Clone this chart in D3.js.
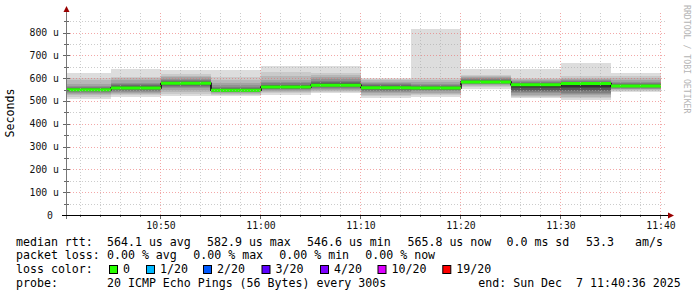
<!DOCTYPE html>
<html>
<head>
<meta charset="utf-8">
<script src="https://cdn.jsdelivr.net/npm/d3@7"></script>
<style>
  body { margin: 0; background: #fff; }
  svg { display: block; }
  text { font-family: "DejaVu Sans Mono", monospace; white-space: pre; }
</style>
</head>
<body>
<svg id="chart" width="697" height="297"></svg>
<script>
// 5 minute steps, value is for the step ending at that time
const stepEnds = ["10:45", "10:50", "10:55", "11:00", "11:05", "11:10",
                  "11:15", "11:20", "11:25", "11:30", "11:35", "11:40"];
const medianRtt = [549, 557, 578, 546.6, 561, 569, 558, 557, 582.9, 571, 576, 565.8];
// 20 sorted ping rtts per step (microseconds)
const pingRtt = [
  [509, 518, 525, 530, 535, 539, 542, 545, 547, 548, 550, 552, 555, 558, 562, 567, 575, 590, 600, 622],
  [516, 524, 530, 536, 540, 545, 549, 552, 555, 556, 558, 561, 564, 568, 573, 580, 590, 600, 607, 640],
  [522, 532, 540, 548, 555, 562, 567, 571, 575, 577, 579, 582, 585, 588, 592, 597, 603, 610, 618, 636],
  [523, 528, 532, 535, 538, 540, 542, 544, 546, 547, 548, 550, 553, 557, 562, 570, 580, 592, 604, 636],
  [526, 533, 538, 543, 547, 551, 554, 557, 559, 560, 562, 565, 568, 572, 578, 585, 594, 610, 625, 653],
  [534, 540, 545, 549, 553, 557, 561, 564, 567, 568, 570, 573, 577, 582, 588, 596, 605, 615, 621, 655],
  [514, 522, 528, 534, 539, 544, 548, 552, 555, 557, 559, 562, 565, 569, 573, 578, 584, 590, 596, 602],
  [519, 526, 532, 537, 542, 546, 550, 553, 555, 556, 558, 560, 563, 567, 571, 576, 582, 590, 601, 816],
  [553, 560, 565, 569, 573, 576, 578, 580, 582, 583, 584, 586, 588, 591, 595, 599, 604, 610, 614, 640],
  [512, 518, 523, 528, 533, 538, 543, 549, 555, 562, 568, 572, 576, 580, 584, 588, 593, 598, 602, 640],
  [504, 512, 518, 524, 530, 536, 542, 549, 556, 563, 570, 575, 579, 583, 587, 591, 596, 602, 610, 665],
  [538, 543, 547, 551, 554, 557, 559, 561, 563, 565, 567, 569, 571, 574, 578, 583, 590, 600, 610, 621]
];
const yTicks = [0, 100, 200, 300, 400, 500, 600, 700, 800];
const xTicks = ["10:50", "11:00", "11:10", "11:20", "11:30", "11:40"];
const rttStats = ["564.1 us avg", "582.9 us max", "546.6 us min", "565.8 us now", "0.0 ms sd", "53.3", "am/s"];
const lossStats = ["0.00 % avg", "0.00 % max", "0.00 % min", "0.00 % now"];
const lossLabels = ["0", "1/20", "2/20", "3/20", "4/20", "10/20", "19/20"];
const lossColors = ["#26ff00", "#00b8ff", "#0059ff", "#5e00ff", "#7e00ff", "#dd00ff", "#ff0000"];
const probeText = "20 ICMP Echo Pings (56 Bytes) every 300s";
const endText = "end: Sun Dec  7 11:40:36 2025";

const t = s => new Date(`2025-12-07T${s.length === 5 ? s + ":00" : s}`);
const startTime = t("10:40:36");
const endTime = t("11:40:36");

const svg = d3.select("#chart");

const x = d3.scaleTime().domain([startTime, endTime]).range([66, 666]);
const y = d3.scaleLinear().domain([0, 890]).range([215, 12]);
const px = v => Math.round(x(v));
const py = v => Math.round(y(v));

// smoke
const grays = d3.range(1, 11).map(i => {
  const c = Math.floor(190 / 10 * (10 - i)) + 50;
  return d3.rgb(c, c, c).toString();
});

const steps = stepEnds.map((s, i) => ({
  start: i === 0 ? startTime : t(stepEnds[i - 1]),
  end: t(s),
  median: medianRtt[i],
  pings: pingRtt[i]
}));

const smoke = svg.append("g");
steps.forEach(d => {
  for (let i = 0; i < 10; i++) {
    const lo = d.pings[i], hi = d.pings[19 - i];
    smoke.append("rect")
      .attr("x", px(d.start) + 1)
      .attr("width", px(d.end) - px(d.start))
      .attr("y", py(hi))
      .attr("height", Math.max(1, py(lo) - py(hi)))
      .attr("fill", grays[i]);
  }
});

// median: black step line with green segments on top
const stepPts = [];
steps.forEach(d => {
  stepPts.push([px(d.start) + 1, y(d.median)]);
  stepPts.push([px(d.end) + 1, y(d.median)]);
});
svg.append("path")
  .attr("d", d3.line()(stepPts))
  .attr("fill", "none")
  .attr("stroke", "#000")
  .attr("stroke-width", 1.5);

svg.append("g").selectAll("line")
  .data(steps)
  .join("line")
  .attr("x1", d => px(d.start) + 1)
  .attr("x2", d => px(d.end) + 1)
  .attr("y1", d => y(d.median))
  .attr("y2", d => y(d.median))
  .attr("stroke", lossColors[0])
  .attr("stroke-width", 3);

// grid on top of data
const grid = svg.append("g");
d3.range(50, 890, 50).forEach(v => {
  const major = v % 100 === 0;
  grid.append("line")
    .attr("x1", 67).attr("x2", 667)
    .attr("y1", py(v) + 0.5).attr("y2", py(v) + 0.5)
    .attr("stroke", major ? "rgba(235,110,110,0.6)" : "rgba(170,170,170,0.6)")
    .attr("stroke-dasharray", "1,2");
  grid.append("line")
    .attr("x1", major ? 63 : 64).attr("x2", major ? 70 : 69)
    .attr("y1", py(v) + 0.5).attr("y2", py(v) + 0.5)
    .attr("stroke", "#666");
});
d3.timeMinute.every(2).range(t("10:41"), endTime).forEach(d => {
  const major = d.getMinutes() % 10 === 0;
  const xv = px(d) + 0.5;
  grid.append("line")
    .attr("x1", xv).attr("x2", xv)
    .attr("y1", 13).attr("y2", 215)
    .attr("stroke", major ? "rgba(235,110,110,0.6)" : "rgba(170,170,170,0.6)")
    .attr("stroke-dasharray", "1,2");
  grid.append("line")
    .attr("x1", xv).attr("x2", xv)
    .attr("y1", 215).attr("y2", major ? 219 : 217)
    .attr("stroke", "#666");
});

// axes
svg.append("line")
  .attr("x1", 66.5).attr("x2", 66.5).attr("y1", 219).attr("y2", 10)
  .attr("stroke", "#777");
svg.append("line")
  .attr("x1", 62).attr("x2", 669).attr("y1", 215.5).attr("y2", 215.5)
  .attr("stroke", "#000");
svg.append("path").attr("d", "M63.5,12 L66.5,6 L69.5,12 Z").attr("fill", "#900");
svg.append("path").attr("d", "M668,212.5 L674,215.5 L668,218.5 Z").attr("fill", "#900");

// tick labels
svg.append("g").selectAll("text")
  .data(yTicks)
  .join("text")
  .attr("x", d => d === 0 ? 53 : 59)
  .attr("y", d => y(d) + 3.5)
  .attr("text-anchor", "end")
  .attr("font-size", "9.8px")
  .attr("fill", "#111")
  .text(d => d === 0 ? "0" : d + " u");

svg.append("g").selectAll("text")
  .data(xTicks)
  .join("text")
  .attr("x", d => x(t(d)) + 1)
  .attr("y", 229)
  .attr("text-anchor", "middle")
  .attr("font-size", "9.8px")
  .attr("fill", "#111")
  .text(d => d);

svg.append("text")
  .attr("transform", "translate(14,113) rotate(-90)")
  .attr("text-anchor", "middle")
  .attr("font-size", "11.6px")
  .text("Seconds");

svg.append("text")
  .attr("transform", "translate(684,5) rotate(90)")
  .attr("font-size", "8.2px")
  .attr("fill", "#b4b4b4")
  .text("RRDTOOL / TOBI OETIKER");

// legend
const leg = svg.append("g").attr("font-size", "11.6px").attr("fill", "#000");
const row = (yb, label) => leg.append("text").attr("x", 16).attr("y", yb).text(label);

row(245.5, "median rtt:");
const rttX = [107, 207, 307, 407.5, 506.5, 586, 635];
rttStats.forEach((s, i) => leg.append("text").attr("x", rttX[i]).attr("y", 245.5).text(s));

row(259.3, "packet loss:");
const lossX = [107, 193.3, 279.3, 365.3];
lossStats.forEach((s, i) => leg.append("text").attr("x", lossX[i]).attr("y", 259.3).text(s));

row(273.1, "loss color:");
const boxX = [109, 146, 203, 261.5, 320, 377.5, 442.3];
lossLabels.forEach((s, i) => {
  leg.append("rect")
    .attr("x", boxX[i] + 0.5).attr("y", 265.5)
    .attr("width", 8).attr("height", 8)
    .attr("fill", lossColors[i])
    .attr("stroke", "#000");
  leg.append("text").attr("x", boxX[i] + 14).attr("y", 273.1).text(s);
});

row(286.9, "probe:");
leg.append("text").attr("x", 107).attr("y", 286.9).text(probeText);
leg.append("text").attr("x", 478.3).attr("y", 286.9).text(endText);
</script>
</body>
</html>
